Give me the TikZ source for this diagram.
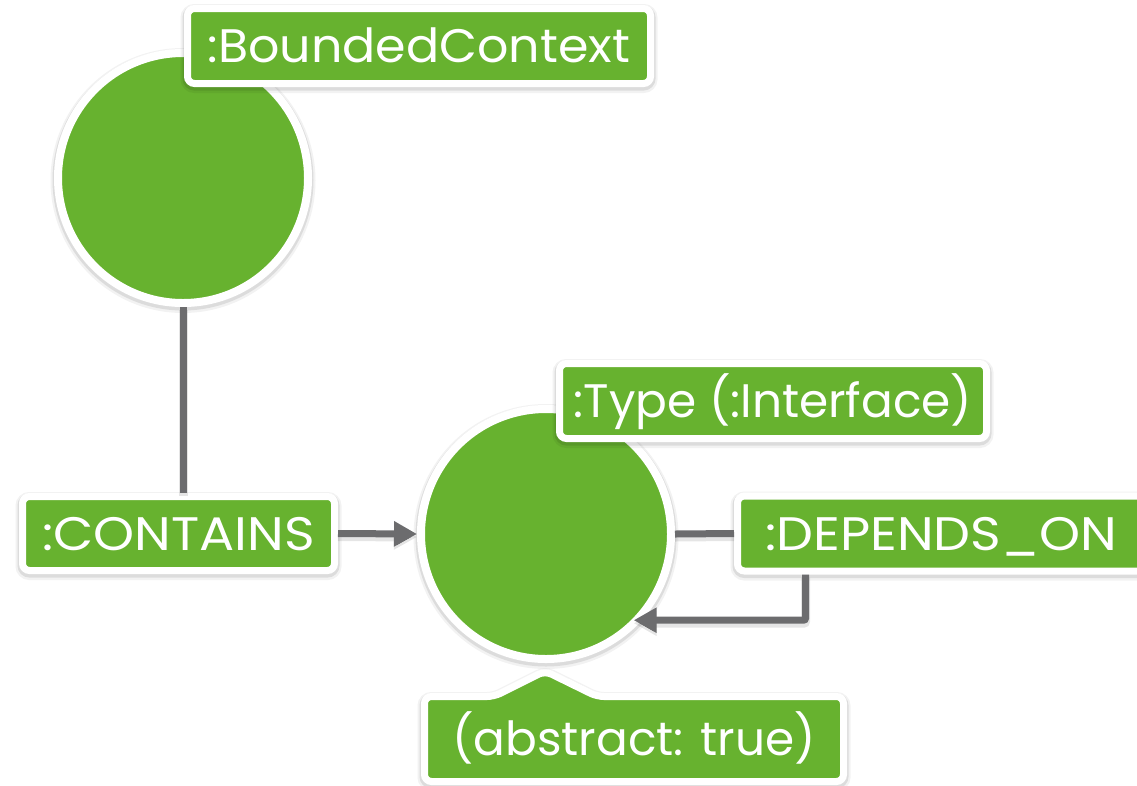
\documentclass[tikz,border=0pt]{standalone}
\usepackage{fontspec}
\setmainfont{Poppins}
% upper-case relationship names are set a little wider
\newfontfamily\relfont{Poppins}[FakeStretch=1.11]
\newfontfamily\widefont{Poppins}[FakeStretch=1.045]
\usetikzlibrary{arrows.meta,calc}
\definecolor{nodegreen}{RGB}{103,178,47}
\definecolor{relgray}{RGB}{108,108,110}

\begin{document}
\begin{tikzpicture}[x=1pt,y=-1pt,
  % soft drop shadow: two faint strokes just outside the white rim, pushed down
  softshadow/.style={
      preaction={draw=black, draw opacity=0.05, line width=#1+7pt,
                 transform canvas={yshift=-2.5pt}},
      preaction={draw=black, draw opacity=0.09, line width=#1+3pt,
                 transform canvas={yshift=-2pt}}},
  graphnode/.style={circle, fill=nodegreen, draw=white, line width=8pt,
      minimum size=250pt, inner sep=0pt, softshadow=8pt},
  tagshape/.style={fill=nodegreen, draw=white, line width=7pt,
      rounded corners=7pt, softshadow=7pt},
  tagtext/.style={rectangle, text=white, inner sep=0pt,
      font=\fontsize{47pt}{47pt}\selectfont, text height=33pt, text depth=0pt},
  tag/.style={tagshape, tagtext},
  rel/.style={draw=relgray, line width=7pt,
      preaction={draw=black, draw opacity=0.10, line width=9pt,
                 transform canvas={yshift=-3pt}}},
  tip/.style={-{Triangle[length=23pt,width=24pt]}}
]
\useasboundingbox (0,0) rectangle (1137,785);
\clip (0,0) rectangle (1137,785);

% graph nodes
\node[graphnode] (ctx) at (183,178) {};
\node[graphnode] (type) at (546,534) {};

% node labels
\node[tag, minimum width=463pt, minimum height=75pt] (ctxlabel) at (419,46) {\widefont :BoundedContext};
\node[tag, minimum width=427pt, minimum height=75pt] (typelabel) at (773,401) {:Type (:Interface)};

% property callout under the type node
\path[tagshape] (424.5,696.5) -- (494,696.5) -- (545,671) -- (597,696.5)
  -- (843.5,696.5) -- (843.5,781.5) -- (424.5,781.5) -- cycle;
\node[tagtext] (props) at (634,739) {(abstract: true)};

% relationship labels
\node[tag, minimum width=312pt, minimum height=74pt] (contains) at (178.5,533.5) {\relfont :CONTAINS};
\node[tag, minimum width=408pt, minimum height=75pt] (depends) at (941.5,533.5) {\relfont :DEPENDS\_ON};

% relationships
\draw[rel] (ctx.south) -- (ctx.south |- contains.north);
\draw[rel, tip] (contains.east) -- (type.west);
\draw[rel] (type.east) -- (depends.west);
\coordinate (bend) at (805.5,620);
\draw[rel, tip, rounded corners=2pt] (depends.south -| bend) |- ($(type.center)+(-44.5:123pt)$);
\end{tikzpicture}
\end{document}
